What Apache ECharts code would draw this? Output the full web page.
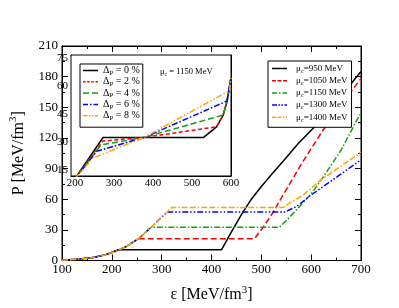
<!DOCTYPE html>
<html><head><meta charset="utf-8">
<script src="https://cdn.jsdelivr.net/npm/echarts@6/dist/echarts.min.js"></script>
<style>html,body{margin:0;padding:0;background:#fff}#c{width:399px;height:308px}</style>
</head><body><div id="c"></div>
<script>
// ---- main plot data: P [MeV/fm^3] vs epsilon [MeV/fm^3] for several mu_c ----
const muLabels = ['950', '1050', '1150', '1300', '1400'];
const main950  = [[100,0.3],[130,1.2],[160,2.7],[185,5.3],[213,10.5],[420,10.5],[440,28],[460,45],[480,60],[500,72.5],[520,84],[545,98],[575,115],[607,131],[650,155],[700,185]];
const main1050 = [[100,0.3],[130,1.2],[160,2.7],[185,5.3],[208,9.1],[230,14],[253,21.2],[486,21.2],[503,32],[523,46.6],[542,62.8],[581,95],[623,127],[660,153],[700,178]];
const main1150 = [[100,0.3],[130,1.2],[160,2.7],[185,5.3],[208,9.1],[230,14],[253,21.2],[279,32.5],[536,32.5],[552,40],[571,49.8],[601,66],[623,80.8],[660,108],[692,137.7],[700,144]];
const main1300 = [[100,0.3],[130,1.2],[160,2.7],[185,5.3],[208,9.1],[230,14],[253,21.2],[279,32.5],[302,43.5],[311,47.4],[547,47.4],[571,53],[601,64.5],[653,82.3],[700,98.6]];
const main1400 = [[100,0.3],[130,1.2],[160,2.7],[185,5.3],[208,9.1],[230,14],[253,21.2],[279,32.5],[302,43.5],[311,47.4],[320,52],[544,52],[562,58],[581,63],[620,79],[660,92.5],[700,106]];
// ---- inset data: mu_c = 1150 MeV, several Delta_P ----
const dpLabels = ['0', '2', '4', '6', '8'];
const inset0 = [[200,10.5],[272,32.5],[529,32.5],[563,38.2],[580,44.5],[590,52],[600,64.5]];
const inset2 = [[200,10.5],[271,30.6],[378,32.6],[563,38.2],[580,44.5],[590,52],[600,64.5]];
const inset4 = [[200,10.5],[267,28.6],[378,32.6],[580,44.5],[590,52],[600,64.5]];
const inset6 = [[200,10.5],[256,25.2],[378,32.6],[590,52],[600,64.5]];
const inset8 = [[200,10.5],[247,21.6],[378,32.6],[596,57.5],[600,64.5]];
// ---- ticks ----
const insetXTicks = [200, 300, 400, 500, 600];
const insetXMinor = [250, 350, 450, 550];
const insetYTicks = [15, 30, 45, 60, 75];
const insetYMinor = [22.5, 37.5, 52.5, 67.5];

const FONT = 'Liberation Serif';
const colors = ['#000000', '#ff0000', '#12a012', '#0000ff', '#ffa500'];
const mainDash = ['solid', [6,3], [6,2,1.5,2], [6,2,1.5,2,1.5,2], [6,2,6,2,1.5,2]];
const insetDash = ['solid', [4,2.5], [6,3], [6,2,1.5,2], [6,2,1.5,2,1.5,2]];
const mainIcons = [
  'path://M0,0h15v1.5h-15z',
  'path://M0,0h4v1.5h-4z M5.5,0h4v1.5h-4z M11,0h4v1.5h-4z',
  'path://M0,0h5v1.5h-5z M7,0h1.5v1.5h-1.5z M10.5,0h4.5v1.5h-4.5z',
  'path://M0,0h5v1.5h-5z M6.5,0h1.5v1.5h-1.5z M9.5,0h1.5v1.5h-1.5z M12.5,0h2.5v1.5h-2.5z',
  'path://M0,0h4v1.5h-4z M5.5,0h4v1.5h-4z M11,0h1.5v1.5h-1.5z M14,0h1v1.5h-1z'
];
const insetIcons = [
  'path://M0,0h15v1.5h-15z',
  'path://M0,0h2.5v1.5h-2.5z M4.1,0h2.5v1.5h-2.5z M8.3,0h2.5v1.5h-2.5z M12.5,0h2.5v1.5h-2.5z',
  'path://M0,0h6v1.5h-6z M9,0h6v1.5h-6z',
  'path://M0,0h5v1.5h-5z M7,0h1.5v1.5h-1.5z M10.5,0h4.5v1.5h-4.5z',
  'path://M0,0h4.5v1.5h-4.5z M6,0h1.5v1.5h-1.5z M9,0h1.5v1.5h-1.5z M12,0h3v1.5h-3z'
];

const chart = echarts.init(document.getElementById('c'), null, {renderer: 'canvas'});

const blk = {color: '#000', width: 1};
function valAxis(o) {
  return Object.assign({
    type: 'value', splitLine: {show: false},
    axisLine: {show: true, onZero: false, lineStyle: blk},
    axisTick: {show: true, inside: true, length: 6, lineStyle: blk},
    minorTick: {show: true, splitNumber: 2, length: 3, lineStyle: blk},
    axisLabel: {show: false}
  }, o);
}
const lbl = (m, fs) => ({show: true, color: '#000', fontFamily: FONT, fontSize: fs, margin: m});
const nameRich = {
  t: {fontFamily: FONT, fontSize: 16, color: '#000'},
  sup: {fontFamily: FONT, fontSize: 11, color: '#000', verticalAlign: 'top', padding: [0, 0, 10, 0]}
};

const xAxes = [
  valAxis({gridIndex: 0, position: 'bottom', min: 100, max: 700, interval: 100, axisLabel: lbl(3, 13),
    name: '{t|ε [MeV/fm}{sup|3}{t|]}', nameLocation: 'middle', nameGap: 24, nameTextStyle: {rich: nameRich}}),
  valAxis({gridIndex: 0, position: 'top', min: 100, max: 700, interval: 100}),
  valAxis({gridIndex: 1, position: 'bottom', min: 190, max: 600, minorTick: {show: false},
    axisTick: {show: true, inside: true, length: 5, lineStyle: blk, customValues: insetXTicks},
    axisLabel: Object.assign(lbl(2, 11), {customValues: insetXTicks})}),
  valAxis({gridIndex: 1, position: 'bottom', min: 190, max: 600, minorTick: {show: false}, axisLine: {show: false},
    axisTick: {show: true, inside: true, length: 3, lineStyle: blk, customValues: insetXMinor}}),
  valAxis({gridIndex: 1, position: 'top', min: 190, max: 600, minorTick: {show: false},
    axisTick: {show: true, inside: true, length: 5, lineStyle: blk, customValues: insetXTicks}}),
  valAxis({gridIndex: 1, position: 'top', min: 190, max: 600, minorTick: {show: false}, axisLine: {show: false},
    axisTick: {show: true, inside: true, length: 3, lineStyle: blk, customValues: insetXMinor}})
];
const yAxes = [
  valAxis({gridIndex: 0, position: 'left', min: 0, max: 210, interval: 30, axisLabel: lbl(4, 13),
    name: '{t|P [MeV/fm}{sup|3}{t|]}', nameLocation: 'middle', nameGap: 33, nameRotate: 90, nameTextStyle: {rich: nameRich}}),
  valAxis({gridIndex: 0, position: 'right', min: 0, max: 210, interval: 30}),
  valAxis({gridIndex: 1, position: 'left', min: 12, max: 76.5, minorTick: {show: false},
    axisTick: {show: true, inside: true, length: 5, lineStyle: blk, customValues: insetYTicks},
    axisLabel: Object.assign(lbl(3, 11), {customValues: insetYTicks})}),
  valAxis({gridIndex: 1, position: 'left', min: 12, max: 76.5, minorTick: {show: false}, axisLine: {show: false},
    axisTick: {show: true, inside: true, length: 3, lineStyle: blk, customValues: insetYMinor}}),
  valAxis({gridIndex: 1, position: 'right', min: 12, max: 76.5, minorTick: {show: false},
    axisTick: {show: true, inside: true, length: 5, lineStyle: blk, customValues: insetYTicks}}),
  valAxis({gridIndex: 1, position: 'right', min: 12, max: 76.5, minorTick: {show: false}, axisLine: {show: false},
    axisTick: {show: true, inside: true, length: 3, lineStyle: blk, customValues: insetYMinor}})
];

const mainData = [main950, main1050, main1150, main1300, main1400];
const insetData = [inset0, inset2, inset4, inset6, inset8];
const series = [];
mainData.forEach((d, i) => series.push({
  name: 'mu' + muLabels[i], type: 'line', xAxisIndex: 0, yAxisIndex: 0, data: d,
  symbol: 'none', clip: true, z: 3,
  lineStyle: {color: colors[i], width: 1.5, type: mainDash[i]}, itemStyle: {color: colors[i]}
}));
insetData.forEach((d, i) => series.push({
  name: 'dp' + dpLabels[i], type: 'line', xAxisIndex: 2, yAxisIndex: 2, data: d,
  symbol: 'none', clip: true, z: 5,
  lineStyle: {color: colors[i], width: 1.5, type: insetDash[i]}, itemStyle: {color: colors[i]}
}));

const mainRich = {
  g: {width: 4},
  t: {fontFamily: FONT, fontSize: 9, lineHeight: 12, color: '#000'},
  s: {fontFamily: FONT, fontSize: 6.5, lineHeight: 7, color: '#000', verticalAlign: 'bottom'}
};
const insetRich = {
  t: {fontFamily: FONT, fontSize: 10, lineHeight: 12, color: '#000'},
  s: {fontFamily: FONT, fontSize: 7, lineHeight: 7, color: '#000', verticalAlign: 'bottom'}
};
const noteRich = {
  t: {fontFamily: FONT, fontSize: 8.5, lineHeight: 11, color: '#000'},
  s: {fontFamily: FONT, fontSize: 6, lineHeight: 6, color: '#000', verticalAlign: 'bottom'}
};

chart.setOption({
  animation: false,
  backgroundColor: '#fff',
  grid: [
    {left: 53, top: 46, width: 308, height: 215, show: true, borderColor: '#000', borderWidth: 1, backgroundColor: 'transparent'},
    {left: 71, top: 55, width: 160, height: 121, show: true, borderColor: '#000', borderWidth: 1, backgroundColor: '#fff', z: 4}
  ],
  xAxis: xAxes,
  yAxis: yAxes,
  legend: [
    {data: muLabels.map((m, i) => ({name: 'mu' + m, icon: mainIcons[i]})), orient: 'vertical', left: 268, top: 61,
     itemWidth: 15, itemHeight: 1.5, itemGap: 0.2, symbolKeepAspect: false,
     padding: [1.5, 4, 4, 4], backgroundColor: '#fff', borderColor: '#000', borderWidth: 1, z: 10,
     formatter: n => '{g|}{t|μ}{s|c}{t|=' + n.slice(2) + ' MeV}', textStyle: {rich: mainRich}},
    {data: dpLabels.map((m, i) => ({name: 'dp' + m, icon: insetIcons[i]})), orient: 'vertical', left: 80, top: 64,
     itemWidth: 15, itemHeight: 1.5, itemGap: 0.3, symbolKeepAspect: false,
     padding: [1.5, 3, 5.5, 3], backgroundColor: '#fff', borderColor: '#000', borderWidth: 1, z: 10,
     formatter: n => '{t|Δ}{s|P}{t| = ' + n.slice(2) + ' %}', textStyle: {rich: insetRich}}
  ],
  graphic: [{
    type: 'text', left: 160, top: 67, z: 20,
    style: {text: '{t|μ}{s|c}{t| = 1150 MeV}', rich: noteRich}
  }],
  series: series
});
</script></body></html>
